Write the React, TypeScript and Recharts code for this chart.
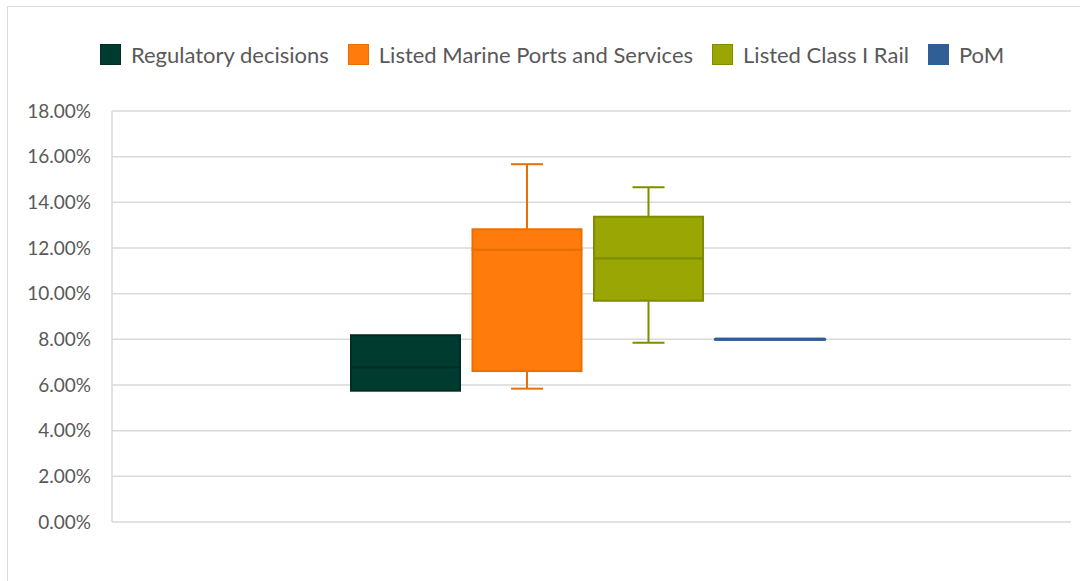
import React from 'react';
import { ComposedChart, Bar, XAxis, YAxis, CartesianGrid } from 'recharts';

const categories = ['Regulatory decisions', 'Listed Marine Ports and Services', 'Listed Class I Rail', 'PoM'];
const minValues = [5.75, 5.84, 7.85, 8.0];
const q1Values = [5.75, 6.61, 9.69, 8.0];
const medianValues = [6.78, 11.93, 11.55, 8.0];
const q3Values = [8.18, 12.82, 13.37, 8.0];
const maxValues = [8.18, 15.67, 14.66, 8.0];
const yTicks = [0, 2, 4, 6, 8, 10, 12, 14, 16, 18];

const fillColors = ['#003B30', '#FF7C0C', '#99A604', '#2F5F95'];
const strokeColors = ['#002E25', '#E86F05', '#7F8C00', '#2F5F95'];

const FONT = 'Lato, "Open Sans", sans-serif';
const TEXT = '#595959';

const data = categories.map((name, i) => ({
  name,
  idx: i,
  base: minValues[i],
  lw: q1Values[i] - minValues[i],
  lb: medianValues[i] - q1Values[i],
  ub: q3Values[i] - medianValues[i],
  uw: maxValues[i] - q3Values[i],
}));

const Empty = () => <g />;

const LowerWhisker = (props: any) => {
  const { x, y, width, height, payload } = props;
  if (!height || height <= 0) return <g />;
  const c = strokeColors[payload.idx];
  const cx = x + width / 2;
  const cap = 16;
  return (
    <g>
      <line x1={cx} x2={cx} y1={y} y2={y + height} stroke={c} strokeWidth={2} />
      <line x1={cx - cap} x2={cx + cap} y1={y + height} y2={y + height} stroke={c} strokeWidth={2} />
    </g>
  );
};

const UpperWhisker = (props: any) => {
  const { x, y, width, height, payload } = props;
  if (!height || height <= 0) return <g />;
  const c = strokeColors[payload.idx];
  const cx = x + width / 2;
  const cap = 16;
  return (
    <g>
      <line x1={cx} x2={cx} y1={y} y2={y + height} stroke={c} strokeWidth={2} />
      <line x1={cx - cap} x2={cx + cap} y1={y} y2={y} stroke={c} strokeWidth={2} />
    </g>
  );
};

const BoxPart = (props: any) => {
  const { x, y, width, height, payload } = props;
  const i = payload.idx;
  const h = Math.abs(height || 0);
  if (h < 0.5) {
    if (payload.lb + payload.ub === 0) {
      return <line x1={x} x2={x + width} y1={y} y2={y} stroke={fillColors[i]} strokeWidth={3} strokeLinecap="round" />;
    }
    return <g />;
  }
  return (
    <rect x={x} y={y} width={width} height={h} fill={fillColors[i]} stroke={strokeColors[i]} strokeWidth={2} />
  );
};

const Legend = () => (
  <div
    style={{
      position: 'absolute',
      top: 34,
      left: 8,
      width: 1072,
      display: 'flex',
      justifyContent: 'center',
      alignItems: 'center',
      fontFamily: FONT,
      fontSize: 22,
      color: TEXT,
      whiteSpace: 'nowrap',
    }}
  >
    {categories.map((c, i) => (
      <div key={c} style={{ display: 'flex', alignItems: 'center', marginRight: i < categories.length - 1 ? 19 : 0 }}>
        <span
          style={{
            display: 'inline-block',
            width: 21,
            height: 21,
            background: fillColors[i],
            border: `1px solid ${strokeColors[i]}`,
            boxSizing: 'border-box',
            marginRight: 10,
          }}
        />
        <span>{c}</span>
      </div>
    ))}
  </div>
);

export default function App() {
  return (
    <div
      style={{
        position: 'absolute',
        left: 7,
        top: 6,
        width: 1073,
        height: 575,
        borderLeft: '1px solid #d9d9d9',
        borderTop: '1px solid #d9d9d9',
        boxSizing: 'border-box',
        background: '#fff',
        overflow: 'hidden',
      }}
    >
      <Legend />
      <ComposedChart
        width={1072}
        height={574}
        data={data}
        margin={{ top: 104, right: 9, bottom: 59, left: 0 }}
        barCategoryGap={6}
      >
        <CartesianGrid vertical={false} stroke="#d9d9d9" strokeWidth={1.5} />
        <XAxis dataKey="name" hide padding={{ left: 233, right: 240 }} />
        <YAxis
          domain={[0, 18]}
          ticks={yTicks}
          width={104}
          tickLine={false}
          tickSize={0}
          tickMargin={21}
          axisLine={{ stroke: '#d9d9d9', strokeWidth: 1.5 }}
          tick={{ fill: TEXT, fontSize: 19, fontFamily: FONT }}
          tickFormatter={(v: number) => `${v.toFixed(2)}%`}
          interval={0}
        />
        <Bar dataKey="base" stackId="b" barSize={109} shape={<Empty />} isAnimationActive={false} />
        <Bar dataKey="lw" stackId="b" barSize={109} shape={<LowerWhisker />} isAnimationActive={false} />
        <Bar dataKey="lb" stackId="b" barSize={109} shape={<BoxPart />} isAnimationActive={false} />
        <Bar dataKey="ub" stackId="b" barSize={109} shape={<BoxPart />} isAnimationActive={false} />
        <Bar dataKey="uw" stackId="b" barSize={109} shape={<UpperWhisker />} isAnimationActive={false} />
      </ComposedChart>
    </div>
  );
}
